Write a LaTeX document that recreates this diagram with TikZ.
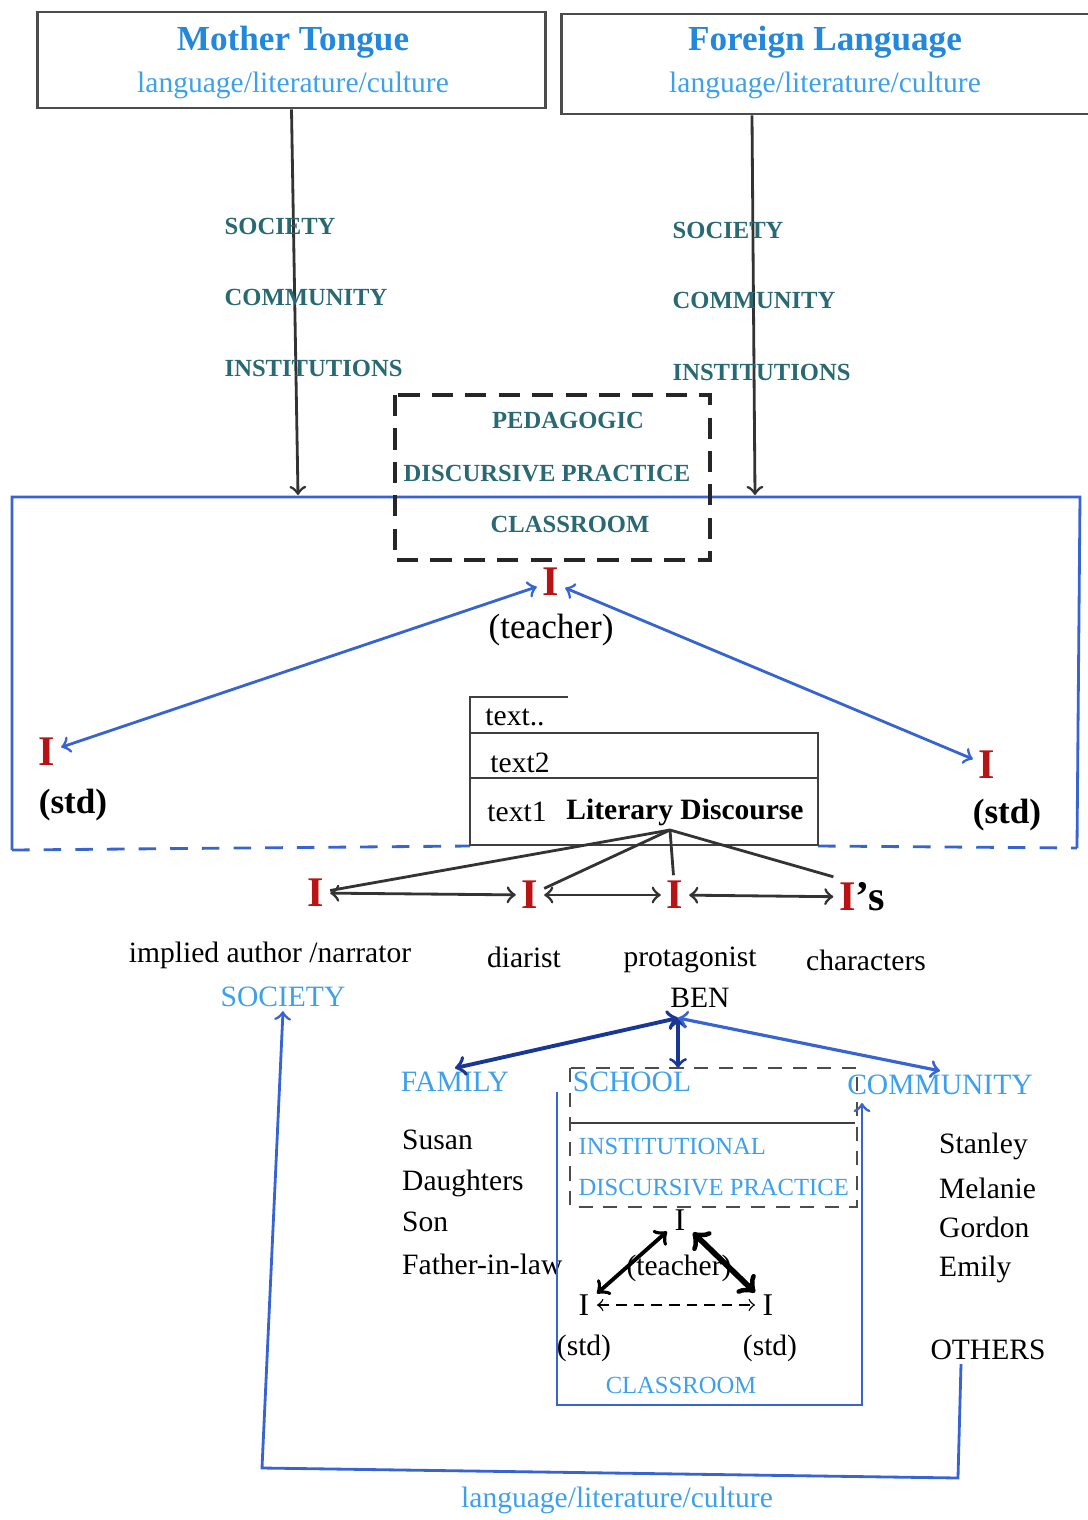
\documentclass[tikz,border=0pt]{standalone}
\usepackage{fontspec}
\setmainfont{Liberation Serif}
\usepackage{tikz}
\usepackage{xcolor}

\definecolor{ttlblue}{RGB}{35,135,220}
\definecolor{lblue}{RGB}{60,160,235}
\definecolor{capteal}{RGB}{40,105,115}
\definecolor{frameblue}{RGB}{55,100,210}
\definecolor{dblue}{RGB}{25,55,150}
\definecolor{redI}{RGB}{185,20,20}

\begin{document}
\begin{tikzpicture}[x=0.01cm,y=-0.01cm,
    ttl/.style={font=\fontsize{10}{12}\selectfont\bfseries, text=ttlblue, inner sep=1pt},
    sub/.style={font=\fontsize{8.4}{10}\selectfont, text=lblue, inner sep=1pt},
    capslbl/.style={font=\fontsize{7}{8}\selectfont\bfseries, text=capteal, anchor=west, inner sep=0pt},
    lbl/.style={font=\fontsize{8.4}{10}\selectfont, inner sep=1pt},
    blbl/.style={font=\fontsize{8.4}{10}\selectfont, text=lblue, inner sep=1pt},
    smblue/.style={font=\fontsize{7}{8}\selectfont, text=lblue, inner sep=0pt},
    myI/.style={font=\fontsize{12}{12}\selectfont\bfseries, text=redI, inner sep=1.5pt},
    smI/.style={font=\fontsize{9}{10}\selectfont, inner sep=2pt},
    frame/.style={frameblue, line width=.8pt},
    dashbox/.style={black!85, line width=.9pt, dash pattern=on 6pt off 3.5pt}]
    \useasboundingbox (0,0) rectangle (1088,1520);

        % top boxes
        \node[draw=black!70, thick, minimum width=5.07cm, minimum height=0.96cm] (mt) at (291.5,60) {};
        \node[ttl] (mtt) at (293,42) {Mother Tongue};
        \node[sub] (mts) at (293,85) {language/literature/culture};
        \node[draw=black!70, thick, minimum width=5.34cm, minimum height=1.0cm] (fl) at (829,64) {};
        \node[ttl] (flt) at (825,42) {Foreign Language};
        \node[sub] (fls) at (825,85) {language/literature/culture};

        % down arrows into the classroom
        \coordinate (mtin) at (298,495);
        \coordinate (flin) at (755,495);
        \draw[->, thick, black!80] (mt.south) -- (mtin);
        \draw[->, thick, black!80] (fl.south -| 752,0) -- (flin);
        \node[capslbl] (soc1) at (224,226) {SOCIETY};
        \node[capslbl] (com1) at (224,297) {COMMUNITY};
        \node[capslbl] (ins1) at (224,368) {INSTITUTIONS};
        \node[capslbl] (soc2) at (672,230) {SOCIETY};
        \node[capslbl] (com2) at (672,300) {COMMUNITY};
        \node[capslbl] (ins2) at (672,372) {INSTITUTIONS};

        % classroom frame
        \draw[frame] (12,850) -- (12,497) -- (1080,497) -- (1077,848);
        \draw[frame, dash pattern=on 5pt off 4pt] (12,850) -- (470,846);
        \draw[frame, dash pattern=on 5pt off 4pt] (818,846) -- (1077,848);

        % pedagogic box
        \draw[dashbox] (395,395) rectangle (710,560);
        \node[capslbl, anchor=center] (ped) at (568,420) {PEDAGOGIC};
        \node[capslbl, anchor=center] (pdp) at (547,474) {DISCURSIVE PRACTICE};
        \node[capslbl, anchor=center] (pcl) at (570,524) {CLASSROOM};

        % teacher and students
        \node[myI] (tch) at (551,582) {I};
        \node[lbl, font=\fontsize{10}{12}\selectfont] (tchl) at (551,630) {(teacher)};
        \node[myI] (stl) at (47,752) {I};
        \node[lbl, font=\fontsize{10}{12}\selectfont\bfseries] (stll) at (73,805) {(std)};
        \node[myI] (str) at (987,765) {I};
        \node[lbl, font=\fontsize{10}{12}\selectfont\bfseries] (strl) at (1007,815) {(std)};
        \draw[<->, frame] (tch) -- (stl);
        \draw[<->, frame] (tch) -- (str);

        % texts
        \draw[black!75, thick] (568,697) -- (470,697) -- (470,845) -- (818,845) -- (818,733) -- (470,733);
        \draw[black!75, thick] (470,778) -- (818,778);
        \node[lbl] (tx0) at (515,717) {text..};
        \node[lbl] (tx2) at (520,763) {text2};
        \node[lbl] (tx1) at (517,812) {text1};
        \node[lbl] (ld) at (685,812) {\textbf{Literary Discourse}};
        \coordinate (apex) at (670,830);

        % voices in the novel
        \node[myI] (nar) at (316,893) {I};
        \node[myI] (dia) at (530,895) {I};
        \node[myI] (pro) at (675,895) {I};
        \node[myI] (cha) at (862,897) {I\textcolor{black}{'s}};
        \draw[black!80, thick] (apex) -- (nar);
        \draw[black!80, thick] (apex) -- (dia);
        \draw[black!80, thick] (apex) -- (pro);
        \draw[black!80, thick] (apex) -- (cha.north west);
        \draw[<->, black!80, thick] (nar) -- (dia);
        \draw[<->, black!80, thick] (dia) -- (pro);
        \draw[<->, black!80, thick] (pro) -- (cha);
        \node[lbl] (narl) at (270,955) {implied author /narrator};
        \node[lbl] (dial) at (524,957) {diarist};
        \node[lbl] (prol) at (690,960) {protagonist};
        \node[lbl] (chal) at (866,960) {characters};
        \node[blbl] (soc) at (283,997) {SOCIETY};
        \node[lbl] (ben) at (700,998) {BEN};

        % Ben's world
        \coordinate (hub) at (678,1018);
        \node[blbl] (fam) at (455,1082) {FAMILY};
        \node[blbl] (sch) at (632,1082) {SCHOOL};
        \node[blbl] (com) at (940,1085) {COMMUNITY};
        \draw[<->, dblue, line width=1.1pt] (hub) -- (fam.north);
        \draw[<->, dblue, line width=.9pt] (hub) -- (hub |- sch.north);
        \draw[<->, frameblue, line width=.9pt] (hub) -- (com.north);
        \node[lbl, anchor=west] (fa1) at (398,1140) {Susan};
        \node[lbl, anchor=west] (fa2) at (398,1183) {Daughters};
        \node[lbl, anchor=west] (fa3) at (398,1222) {Son};
        \node[lbl, anchor=west] (fa4) at (398,1264) {Father-in-law};
        \node[lbl, anchor=west] (co1) at (935,1146) {Stanley};
        \node[lbl, anchor=west] (co2) at (935,1188) {Melanie};
        \node[lbl, anchor=west] (co3) at (935,1227) {Gordon};
        \node[lbl, anchor=west] (co4) at (935,1269) {Emily};
        \node[lbl] (oth) at (988,1350) {OTHERS};

        % school box
        \draw[black!70, thin, dash pattern=on 4pt off 3pt] (570,1068) rectangle (857,1207);
        \draw[black!75, thick] (571,1123) -- (855,1123);
        \node[smblue, anchor=west] (ins) at (578,1146) {INSTITUTIONAL};
        \node[smblue, anchor=west] (idp) at (578,1188) {DISCURSIVE PRACTICE};
        \coordinate (cltop) at (557,1092);
        \coordinate (clend) at (862,1103);
        \draw[->, frame] (cltop) |- (862,1405) -- (clend);
        \node[smblue] (cls) at (681,1385) {CLASSROOM};

        % little classroom triangle
        \node[smI] (ti) at (680,1220) {I};
        \node[lbl] (til) at (679,1268) {(teacher)};
        \node[smI] (li) at (584,1305) {I};
        \node[smI] (ri) at (768,1305) {I};
        \node[lbl] (lil) at (584,1348) {(std)};
        \node[lbl] (ril) at (770,1348) {(std)};
        \draw[<->, black, line width=1.1pt] (li) -- (ti);
        \draw[<->, black, line width=1.6pt] (ti) -- (ri);
        \draw[<->, black, thin, densely dashed] (li) -- (ri);

        % back to society
        \coordinate (lp1) at (958,1478);
        \coordinate (lp2) at (262,1468);
        \draw[->, frame] (oth.south -| 961,0) -- (lp1) -- (lp2) -- (soc.south);
        \node[sub] (llc) at (617,1500) {language/literature/culture};
    \end{tikzpicture}
\end{document}
